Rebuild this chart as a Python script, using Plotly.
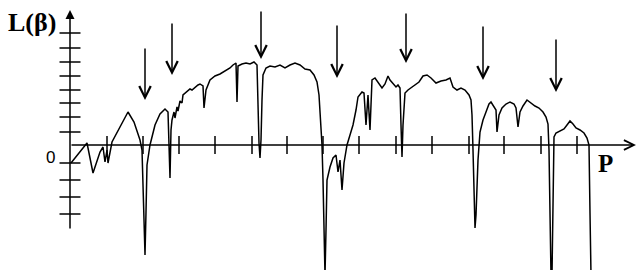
import plotly.graph_objects as go

# Parameter (P) and exponent L(beta) (arbitrary units)
P = [1, 10, 17, 23, 30, 33, 35, 37, 38, 42, 50, 58, 64, 70, 72, 74, 75, 76, 77, 80,
     85, 90, 95, 98, 99, 100, 101, 102, 104, 105, 107, 108, 110, 112, 113, 117, 120, 122, 125, 128,
     130, 133, 134, 136, 140, 145, 150, 155, 160, 163, 166, 167, 168, 172, 176, 180, 184, 187, 188, 189,
     190, 191, 192, 193, 196, 200, 205, 210, 215, 220, 225, 230, 235, 240, 244, 247, 249, 250, 251, 252,
     253, 254, 255, 256, 257, 260, 263, 266, 268, 270, 272, 274, 277, 280, 283, 286, 288, 292, 294, 296,
     298, 300, 302, 305, 308, 312, 315, 318, 320, 323, 326, 328, 330, 331, 332, 333, 335, 338, 341, 345,
     349, 353, 357, 361, 366, 371, 376, 380, 383, 387, 391, 395, 399, 401, 402, 403, 404, 405, 406, 407,
     408, 410, 413, 416, 419, 421, 424, 426, 427, 429, 432, 436, 440, 444, 446, 448, 450, 453, 457, 461,
     465, 469, 473, 476, 478, 479, 480, 481, 482, 483, 484, 486, 490, 494, 497, 500, 503, 506, 510, 514,
     517, 519, 520, 521]
L = [-18, -7, 2, -28, -7, -2, -17, -5, -18, 3, 18, 33, 23, 5, -5, -67, -110, -67, -20, 0,
     20, 31, 36, 33, 0, -33, 15, 25, 33, 27, 38, 34, 44, 42, 50, 53, 56, 55, 58, 60,
     61, 59, 37, 55, 65, 69, 71, 74, 77, 80, 82, 43, 79, 81, 82, 81, 83, 80, 30, 2,
     -13, 5, 45, 70, 77, 79, 78, 80, 77, 80, 82, 80, 76, 75, 70, 63, 50, 35, 17, 0,
     -35, -113, -130, -85, -35, -22, -13, -10, -27, -15, -45, -18, 0, 10, 20, 35, 48, 53, 52, 20,
     50, 15, 65, 67, 63, 57, 61, 69, 65, 62, 58, 60, 57, 20, -12, 20, 52, 55, 57, 60,
     63, 69, 70, 67, 62, 64, 65, 67, 58, 55, 57, 55, 50, 45, 30, -5, -35, -83, -70, -33,
     -15, 13, 25, 33, 41, 43, 38, 35, 13, 30, 37, 41, 43, 41, 37, 18, 33, 39, 45, 42,
     39, 37, 33, 28, 21, -5, -65, -130, -130, -60, 8, 12, 14, 16, 20, 24, 21, 17, 15, 12,
     7, 0, -68, -130]

# Axis tick positions
x_ticks = [37, 73, 109, 145, 182, 217, 253, 289, 326, 362, 399, 434, 471, 507]
y_ticks = [112, 97, 83, 69, 55, 42, 28, 13, -18, -35, -52, -69]

# Marked points (arrows): parameter, arrow tip and arrow tail levels
arrow_P = [75, 102, 191, 267, 336, 413, 486]
arrow_tip = [45, 70, 86, 67, 82, 65, 53]
arrow_tail = [98, 123, 135, 121, 133, 120, 107]

fig = go.Figure()

fig.add_trace(go.Scatter(x=P, y=L, mode="lines",
                         line=dict(color="black", width=1.5), hoverinfo="skip"))
fig.add_trace(go.Scatter(x=x_ticks, y=[0] * len(x_ticks), mode="markers",
                         marker=dict(symbol="line-ns", size=13,
                                     line=dict(color="black", width=1.5)), hoverinfo="skip"))
fig.add_trace(go.Scatter(x=[0] * len(y_ticks), y=y_ticks, mode="markers",
                         marker=dict(symbol="line-ew", size=15,
                                     line=dict(color="black", width=1.5)), hoverinfo="skip"))

anns = []
# x axis with arrow
anns.append(dict(x=566, y=0, ax=0, ay=0, xref="x", yref="y", axref="x", ayref="y",
                 text="", showarrow=True, arrowhead=5, arrowsize=1.3, arrowwidth=1.5,
                 arrowcolor="black", standoff=0))
# y axis with arrow
anns.append(dict(x=0, y=135, ax=0, ay=-85, xref="x", yref="y", axref="x", ayref="y",
                 text="", showarrow=True, arrowhead=2, arrowsize=1.2, arrowwidth=1.5,
                 arrowcolor="black", standoff=0))
for xp, tip, tail in zip(arrow_P, arrow_tip, arrow_tail):
    anns.append(dict(x=xp, y=tip, ax=xp, ay=tail, xref="x", yref="y", axref="x", ayref="y",
                     text="", showarrow=True, arrowhead=5, arrowsize=1.5, arrowwidth=1.5,
                     arrowcolor="black", standoff=0))

anns.append(dict(x=-38, y=123, xref="x", yref="y", text="<b>L(β)</b>", showarrow=False,
                 font=dict(family="Liberation Serif", size=26, color="black")))
anns.append(dict(x=-20, y=-12, xref="x", yref="y", text="0", showarrow=False,
                 font=dict(family="Liberation Sans", size=17, color="black")))
anns.append(dict(x=535, y=-18, xref="x", yref="y", text="<b>P</b>", showarrow=False,
                 font=dict(family="Liberation Serif", size=25, color="black")))

fig.update_layout(
    width=637, height=270, margin=dict(l=0, r=0, t=0, b=0),
    paper_bgcolor="white", plot_bgcolor="white", showlegend=False,
    xaxis=dict(range=[-70, 567], visible=False, fixedrange=True),
    yaxis=dict(range=[-125, 145], visible=False, fixedrange=True),
    annotations=anns,
)

fig.write_html("out.html", config={"displayModeBar": False},
               post_script="document.body.style.margin='0';document.body.style.overflow='hidden';")
